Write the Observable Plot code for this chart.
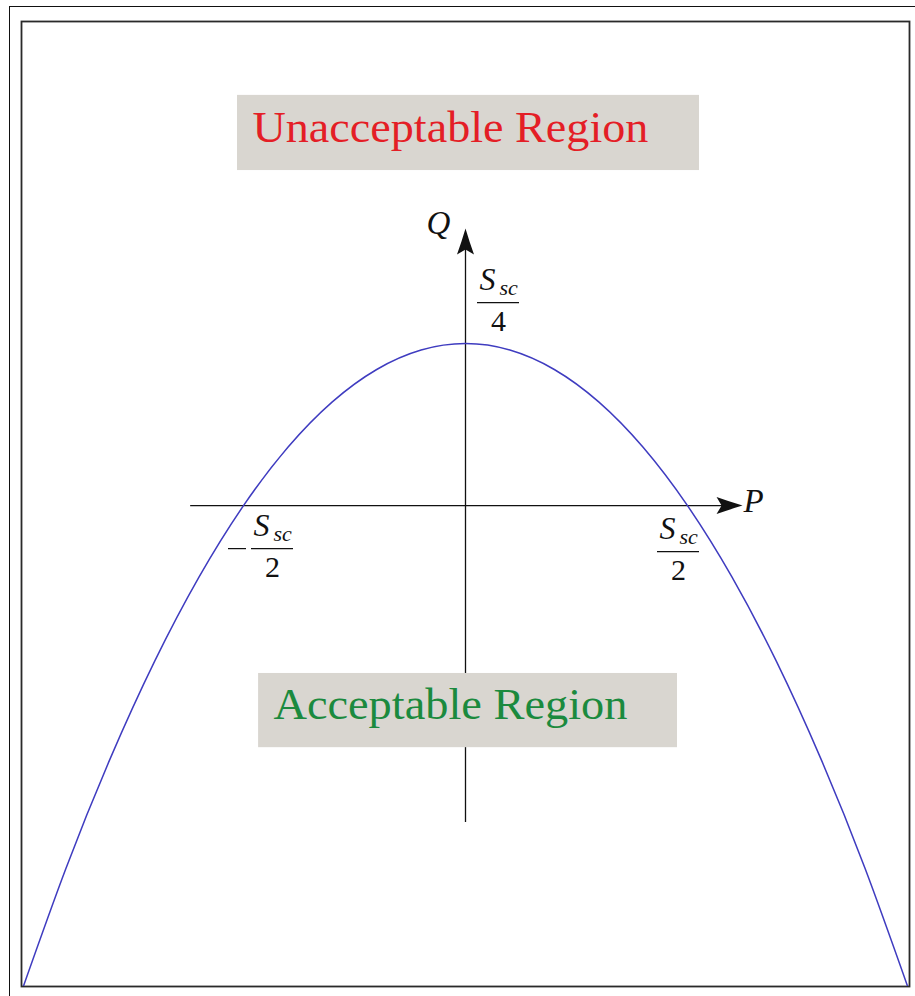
<!DOCTYPE html>
<html>
<head>
<meta charset="utf-8">
<script src="https://cdn.jsdelivr.net/npm/d3@7"></script>
<script src="https://cdn.jsdelivr.net/npm/@observablehq/plot@0.6"></script>
<style>
html, body { margin: 0; padding: 0; overflow: hidden; background: #fff; width: 915px; height: 996px; }
#outer { position: absolute; left: 9px; top: 6px; width: 1000px; height: 1100px; border-left: 1.2px solid #111; border-top: 1.2px solid #111; }
#chart { position: absolute; left: 0; top: 0; }
</style>
</head>
<body>
<div id="outer"></div>
<div id="chart"></div>
<script>
// ---- data (P and Q in units of S_sc) ----
const curveP = [-1.0, -0.9, -0.8, -0.7, -0.6, -0.5, -0.4, -0.3, -0.2, -0.1, 0.0, 0.1, 0.2, 0.3, 0.4, 0.5, 0.6, 0.7, 0.8, 0.9, 1.0];
const curveQ = [-0.75, -0.56, -0.39, -0.24, -0.11, 0.0, 0.09, 0.16, 0.21, 0.24, 0.25, 0.24, 0.21, 0.16, 0.09, 0.0, -0.11, -0.24, -0.39, -0.56, -0.75];
const pTicks = [-0.5, 0.5];
const pTickSigns = ["−", ""];
const pTickDenoms = ["2", "2"];
const qTicks = [0.25];
const qTickDenoms = ["4"];
const tickNumer = "S";
const tickSub = "sc";
const axisNames = ["P", "Q"];
const pAxisExtent = [-0.619, 0.624];
const qAxisExtent = [-0.489, 0.4275];
const regionNames = ["Unacceptable Region", "Acceptable Region"];

// ---- layout ----
const W = 915, H = 996;
const mL = 21, mR = 6, mT = 21, mB = 10;
const xDomain = [-1, 1], yDomain = [-0.742, 0.747];
const kx = (W - mL - mR) / (xDomain[1] - xDomain[0]);
const serif = "'Liberation Serif', 'Times New Roman', serif";

const curve = curveP.map((p, i) => ({P: p, Q: curveQ[i]}));
const regionBoxes = [
  {name: regionNames[0], x1: -0.5135, x2: 0.527, y1: 0.517, y2: 0.633, tx: -0.034, ty: 0.5617, color: "#e41e26", len: 396},
  {name: regionNames[1], x1: -0.466, x2: 0.4775, y1: -0.3735, y2: -0.259, tx: -0.034, ty: -0.3287, color: "#1b8a3e", len: 354}
];

// stealth arrowhead symbol pointing up, tip at the origin
const stealth = {
  draw(ctx) {
    const L = 26, w = 8.5, n = 21;
    ctx.moveTo(0, 0);
    ctx.quadraticCurveTo(w * 0.45, L * 0.5, w, L);
    ctx.lineTo(0, n);
    ctx.lineTo(-w, L);
    ctx.quadraticCurveTo(-w * 0.45, L * 0.5, 0, 0);
    ctx.closePath();
  }
};

// fraction label S_sc / d anchored at (ax, ay) with the bar centre offset (ox, oy) px
function fraction(ax, ay, ox, oy, denom, sign) {
  const hw = 21;
  const d = [{x: ax, y: ay}];
  const marks = [
    Plot.ruleY(d, {y: "y", x1: d => d.x + (ox - hw) / kx, x2: d => d.x + (ox + hw) / kx, dy: oy, stroke: "#111", strokeWidth: 1.2}),
    Plot.text(d, {x: "x", y: "y", text: () => tickNumer, dx: ox - 19, dy: oy - 13, textAnchor: "start", lineAnchor: "bottom", fontFamily: serif, fontStyle: "italic", fontSize: 32, fill: "#111"}),
    Plot.text(d, {x: "x", y: "y", text: () => tickSub, dx: ox + 1, dy: oy - 8, textAnchor: "start", lineAnchor: "bottom", fontFamily: serif, fontStyle: "italic", fontSize: 22, fill: "#111"}),
    Plot.text(d, {x: "x", y: "y", text: () => denom, dx: ox, dy: oy + 28, textAnchor: "middle", lineAnchor: "bottom", fontFamily: serif, fontSize: 30, fill: "#111"})
  ];
  if (sign) {
    marks.push(Plot.ruleY(d, {y: "y", x1: d => d.x + (ox - 35 - 9) / kx, x2: d => d.x + (ox - 35 + 9) / kx, dy: oy, stroke: "#111", strokeWidth: 1.2}));
  }
  return marks;
}

const chart = Plot.plot({
  width: W,
  height: H,
  marginLeft: mL, marginRight: mR, marginTop: mT, marginBottom: mB,
  x: {domain: xDomain, axis: null},
  y: {domain: yDomain, axis: null},
  style: {background: "transparent", overflow: "visible"},
  marks: [
    Plot.frame({stroke: "#2a2a2a", strokeWidth: 1.8}),
    // axes
    Plot.ruleY([0], {x1: pAxisExtent[0], x2: pAxisExtent[1] - 10 / kx, stroke: "#111", strokeWidth: 1.3}),
    Plot.ruleX([0], {y1: qAxisExtent[0], y2: qAxisExtent[1] - 0.015, stroke: "#111", strokeWidth: 1.3}),
    Plot.dot([{x: pAxisExtent[1], y: 0}], {x: "x", y: "y", symbol: stealth, rotate: 90, fill: "#111", stroke: "none"}),
    Plot.dot([{x: 0, y: qAxisExtent[1]}], {x: "x", y: "y", symbol: stealth, rotate: 0, fill: "#111", stroke: "none"}),
    // region boxes
    Plot.rect(regionBoxes, {x1: "x1", x2: "x2", y1: "y1", y2: "y2", fill: "#d9d6d0"}),
    Plot.text(regionBoxes, {x: "tx", y: "ty", text: "name", fill: "color", textAnchor: "middle", lineAnchor: "bottom", fontFamily: serif, fontSize: 45}),
    // axis names
    Plot.text([{x: pAxisExtent[1], y: 0}], {x: "x", y: "y", text: () => axisNames[0], dx: 1, dy: 6, textAnchor: "start", lineAnchor: "bottom", fontFamily: serif, fontStyle: "italic", fontSize: 33, fill: "#111"}),
    Plot.text([{x: 0, y: qAxisExtent[1]}], {x: "x", y: "y", text: () => axisNames[1], dx: -27, dy: 5, textAnchor: "middle", lineAnchor: "bottom", fontFamily: serif, fontStyle: "italic", fontSize: 33, fill: "#111"}),
    // tick fractions
    ...fraction(0, qTicks[0], 33, -41, qTickDenoms[0], false),
    ...fraction(pTicks[0], 0, 29, 43, pTickDenoms[0], pTickSigns[0] !== ""),
    ...fraction(pTicks[1], 0, -9, 46, pTickDenoms[1], pTickSigns[1] !== ""),
    // curve
    Plot.line(curve, {x: "P", y: "Q", curve: "natural", stroke: "#3f3cc0", strokeWidth: 1.5, clip: true})
  ]
});

document.getElementById("chart").appendChild(chart);

// fit region label widths
chart.querySelectorAll("text").forEach(t => {
  const r = regionBoxes.find(b => b.name === t.textContent);
  if (r) {
    t.setAttribute("textLength", r.len);
    t.setAttribute("lengthAdjust", "spacingAndGlyphs");
  }
});
</script>
</body>
</html>
